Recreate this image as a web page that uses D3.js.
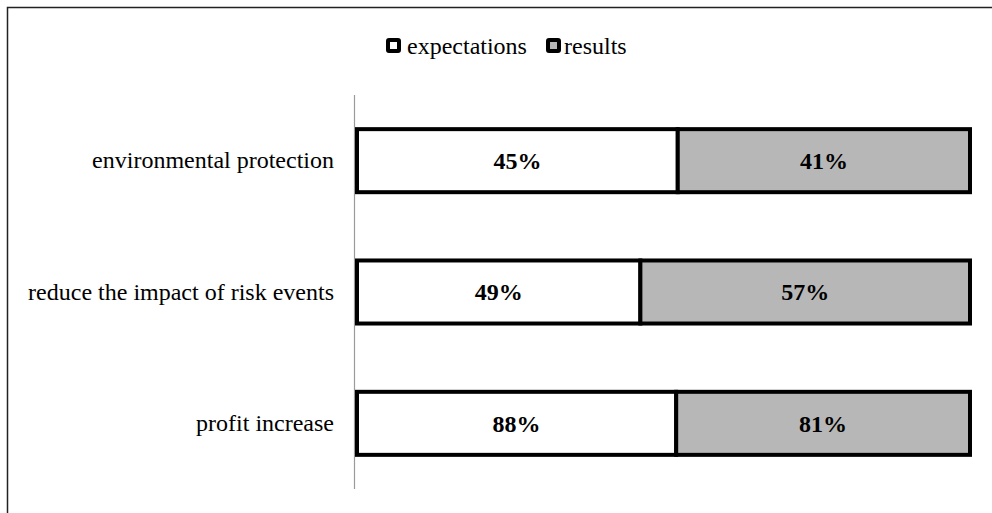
<!DOCTYPE html>
<html><head><meta charset="utf-8">
<script src="https://cdn.jsdelivr.net/npm/d3@7"></script>
<style>body{margin:0;background:#fff}svg{display:block}</style>
</head><body>
<svg id="c" width="992" height="513"></svg>
<script>
const categories = ["environmental protection", "reduce the impact of risk events", "profit increase"];
const seriesNames = ["expectations", "results"];
const expectations = [45, 49, 88];
const results = [41, 57, 81];
const colors = ["#ffffff", "#b7b7b7"];

const svg = d3.select("#c");
const font = "'Liberation Serif','Times New Roman',serif";

svg.append("rect").attr("x",7.5).attr("y",7.5).attr("width",1000).attr("height",520)
  .attr("fill","none").attr("stroke","#222").attr("stroke-width",1.5);

const data = categories.map((c,i)=>({cat:c, expectations:expectations[i], results:results[i]}));
const stack = d3.stack().keys(seriesNames).offset(d3.stackOffsetExpand);
const layers = stack(data);

const x = d3.scaleLinear().domain([0,1]).range([357,970]);
const y = d3.scaleBand().domain(categories).range([95,489]).paddingInner(0.52).paddingOuter(0.26);

// axis line
svg.append("line").attr("x1",354.5).attr("x2",354.5).attr("y1",95).attr("y2",489)
  .attr("stroke","#9a9a9a").attr("stroke-width",1.2);

const yAxis = d3.axisLeft(y).tickSize(0).tickPadding(20);
const ga = svg.append("g").attr("transform","translate(354,0)").call(yAxis);
ga.select(".domain").remove();
ga.selectAll("text").attr("font-family",font).attr("font-size",24).attr("fill","#000");

const g = svg.append("g");
layers.forEach((layer,li)=>{
  g.selectAll(null).data(layer).enter().append("rect")
    .attr("x",d=>x(d[0])).attr("width",d=>x(d[1])-x(d[0]))
    .attr("y",d=>y(d.data.cat)).attr("height",y.bandwidth())
    .attr("fill",colors[li]).attr("stroke","#000").attr("stroke-width",4);
});
layers.forEach((layer,li)=>{
  g.selectAll(null).data(layer).enter().append("text")
    .attr("x",d=>(x(d[0])+x(d[1]))/2).attr("y",d=>y(d.data.cat)+y.bandwidth()/2)
    .attr("dy","0.35em").attr("text-anchor","middle")
    .attr("font-family",font).attr("font-size",24).attr("font-weight","bold")
    .text(d=>d.data[seriesNames[li]]+"%");
});

// legend
const legX = [386, 546];
const legTextX = [407, 564];
seriesNames.forEach((s,i)=>{
  svg.append("rect").attr("x",legX[i]+2).attr("y",40).attr("width",11).attr("height",11)
    .attr("fill",colors[i]).attr("stroke","#000").attr("stroke-width",4).attr("rx",1);
  svg.append("text").attr("x",legTextX[i]).attr("y",54)
    .attr("font-family",font).attr("font-size",24).text(s);
});
</script>
</body></html>
